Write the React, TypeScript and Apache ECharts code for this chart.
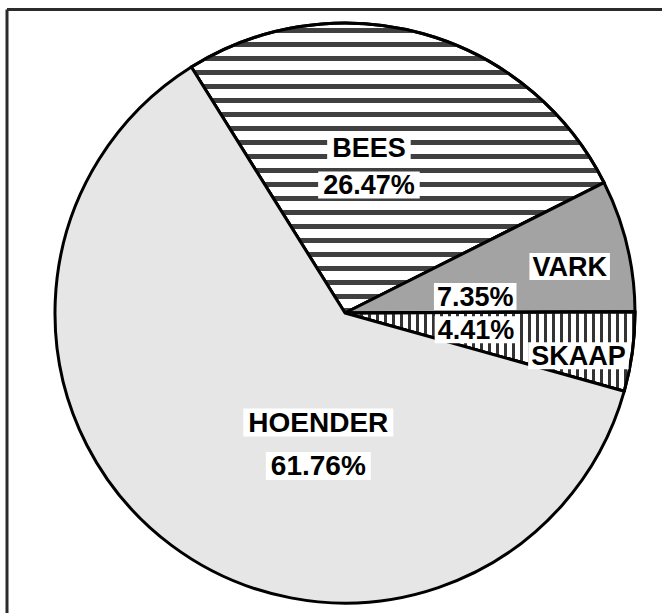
import React, { useEffect, useRef } from "react";
import * as echarts from "echarts";

const categories = ["BEES", "VARK", "SKAAP", "HOENDER"];
const values = [26.47, 7.35, 4.41, 61.76];

// visual configuration (not data)
const fills = ["#ffffff", "#a3a3a3", "#ffffff", "#e6e6e6"];
const decals: any[] = [
  { symbol: "rect", symbolSize: 1, color: "#404040", dashArrayX: [1, 0], dashArrayY: [5, 9], rotation: 0 },
  "none",
  { symbol: "rect", symbolSize: 1, color: "#333333", dashArrayX: [3, 5], dashArrayY: [1, 0], rotation: 0 },
  "none",
];
// label block offsets from the default inside position
const labelOffsets = [
  [-16, -3],
  [33, 3],
  [40, 9],
  [62, 13],
];
// label arrangement: order of lines and alignment
const labelKinds = ["center", "split", "splitRev", "center"];
const labelWidths = [undefined, 176, 194, undefined];
const spacers = [11, 0, 0, 9];
const fontSizes = [27, 27, 27, 28];

const FONT = "'Liberation Sans', Arial, sans-serif";

function buildLabel(i: number) {
  const name = categories[i];
  const pct = values[i].toFixed(2) + "%";
  const kind = labelKinds[i];
  let formatter: string;
  if (kind === "center") {
    formatter = `{n|${name}}\n{s| }\n{v|${pct}}`;
  } else if (kind === "split") {
    formatter = `{nr|${name}}\n{vl|${pct}}`;
  } else {
    formatter = `{vl|${pct}}\n{nr|${name}}`;
  }
  const base = {
    fontFamily: FONT,
    fontWeight: "bold",
    fontSize: fontSizes[i],
    color: "#000",
    backgroundColor: "#ffffff",
  };
  const label: any = {
    show: true,
    position: "inside",
    formatter,
    overflow: "none",
    rich: {
      n: { ...base, lineHeight: i === 3 ? 34 : 24, padding: [0, 5] },
      v: { ...base, lineHeight: i === 3 ? 35 : 27, padding: [0, 5] },
      s: { fontSize: 2, lineHeight: spacers[i], color: "transparent" },
      nr: { ...base, align: "right", lineHeight: i === 1 ? 30 : 24, padding: [0, 3] },
      vl: { ...base, align: "left", lineHeight: i === 1 ? 30 : 28, padding: [0, 3] },
    },
  };
  if (labelWidths[i] !== undefined) label.width = labelWidths[i];
  return label;
}

export default function App() {
  const ref = useRef<HTMLDivElement>(null);
  useEffect(() => {
    if (!ref.current) return;
    const chart = echarts.init(ref.current, null, { renderer: "svg" });
    const data = categories.map((name, i) => ({
      name,
      value: values[i],
      itemStyle: {
        color: fills[i],
        decal: decals[i],
        borderColor: "#000",
        borderWidth: 3,
      },
      label: buildLabel(i),
    }));
    chart.setOption({
      animation: false,
      backgroundColor: "#ffffff",
      graphic: [
        {
          type: "line",
          shape: { x1: 7, y1: 9.5, x2: 662, y2: 9.5 },
          style: { stroke: "#2b2b2b", lineWidth: 3 },
        },
        {
          type: "line",
          shape: { x1: 7, y1: 9.5, x2: 7, y2: 613 },
          style: { stroke: "#2b2b2b", lineWidth: 3 },
        },
      ],
      series: [
        {
          type: "pie",
          center: [345, 313],
          radius: 290,
          startAngle: 122,
          clockwise: true,
          avoidLabelOverlap: false,
          labelLine: { show: false },
          emphasis: { disabled: true },
          data,
          labelLayout: (params: any) => {
            const o = labelOffsets[params.dataIndex];
            return { dx: o[0], dy: o[1] };
          },
        },
      ],
    });
    return () => chart.dispose();
  }, []);
  return (
    <div
      ref={ref}
      style={{ position: "fixed", left: 0, top: 0, width: 662, height: 613 }}
    />
  );
}
